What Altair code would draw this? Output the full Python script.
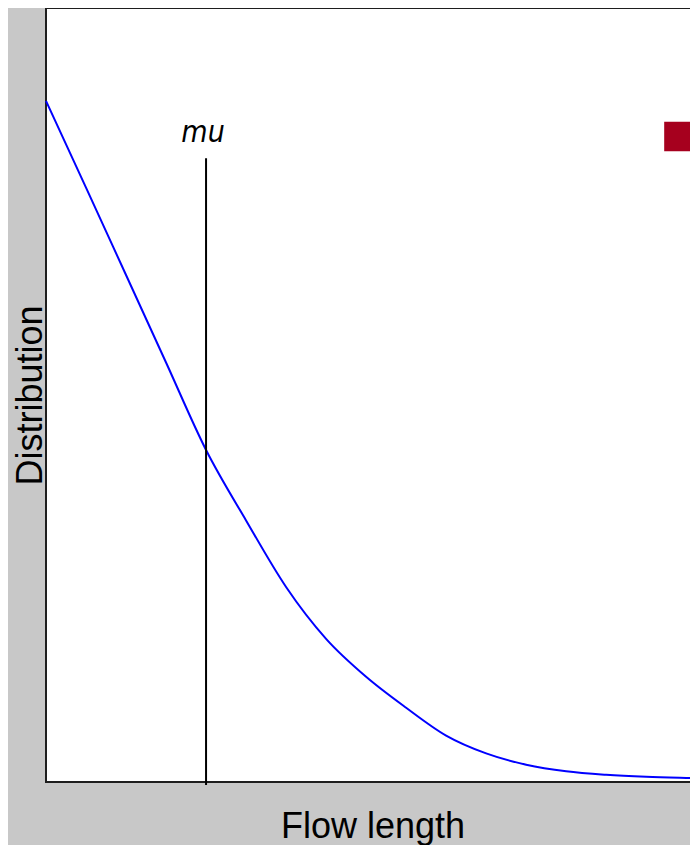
import altair as alt
import pandas as pd

# Curve
flow_length = [0, 0.5, 1, 1.5, 2, 2.5, 3, 3.5, 4, 4.5, 5, 5.5, 6, 6.5, 7, 7.5, 8, 8.16]
distribution = [0.880, 0.768, 0.655, 0.542, 0.429, 0.338, 0.252, 0.185, 0.136,
                0.096, 0.060, 0.037, 0.0224, 0.0138, 0.0093, 0.0067, 0.0052, 0.0048]

# Marker for mu
mu_value = [2.0]
mu_top = [0.806]
mu_label = ["mu"]

# Red box at the upper right
box_x = [7.725]
box_x2 = [8.16]
box_y = [0.815]
box_y2 = [0.853]

curve = pd.DataFrame({"x": flow_length, "y": distribution})
mu_df = pd.DataFrame({"x": mu_value, "y": mu_top, "label": mu_label})
box_df = pd.DataFrame({"x": box_x, "x2": box_x2, "y": box_y, "y2": box_y2})

x_scale = alt.Scale(domain=[0, 8.16], nice=False, zero=False)
y_scale = alt.Scale(domain=[0, 1], nice=False, zero=False)

x_axis = alt.Axis(title="Flow length", labels=False, ticks=False, domain=False, grid=False,
                  titleFont="Liberation Sans", titleFontSize=36, titleFontWeight="normal",
                  titleColor="black", titleBaseline="alphabetic", titleX=326.5, titleY=55)
y_axis = alt.Axis(title="Distribution", labels=False, ticks=False, domain=False, grid=False,
                  titleFont="Liberation Sans", titleFontSize=36, titleFontWeight="normal",
                  titleColor="black", titleBaseline="alphabetic", titleAngle=270,
                  titleX=-5, titleY=387)

line = alt.Chart(curve).mark_line(color="#0000ff", strokeWidth=2, interpolate="monotone").encode(
    x=alt.X("x:Q", scale=x_scale, axis=x_axis),
    y=alt.Y("y:Q", scale=y_scale, axis=y_axis),
)

rule = alt.Chart(mu_df).mark_rule(color="black", strokeWidth=2).encode(
    x=alt.X("x:Q", scale=x_scale),
    y=alt.Y("y:Q", scale=y_scale),
    y2=alt.value(777),
)

label = alt.Chart(mu_df).mark_text(
    font="Liberation Sans Narrow, Arial Narrow, DejaVu Sans Condensed, sans-serif",
    fontStyle="italic", fontSize=30, baseline="alphabetic", align="center",
    dy=-16, dx=-3, color="black",
).encode(
    x=alt.X("x:Q", scale=x_scale),
    y=alt.Y("y:Q", scale=y_scale),
    text="label:N",
)

box = alt.Chart(box_df).mark_rect(color="#a6001e").encode(
    x=alt.X("x:Q", scale=x_scale),
    x2="x2:Q",
    y=alt.Y("y:Q", scale=y_scale),
    y2="y2:Q",
)

chart = alt.layer(box, line, rule, label).properties(
    width=653,
    height=774,
    background="#c8c8c8",
    padding={"left": 38, "top": 0, "right": -9, "bottom": 63},
    autosize=alt.AutoSizeParams(type="none"),
).configure_view(
    fill="white", stroke="#1e1e1e", strokeWidth=2
)

chart.save("out.html", embed_options={"renderer": "svg", "actions": False})
